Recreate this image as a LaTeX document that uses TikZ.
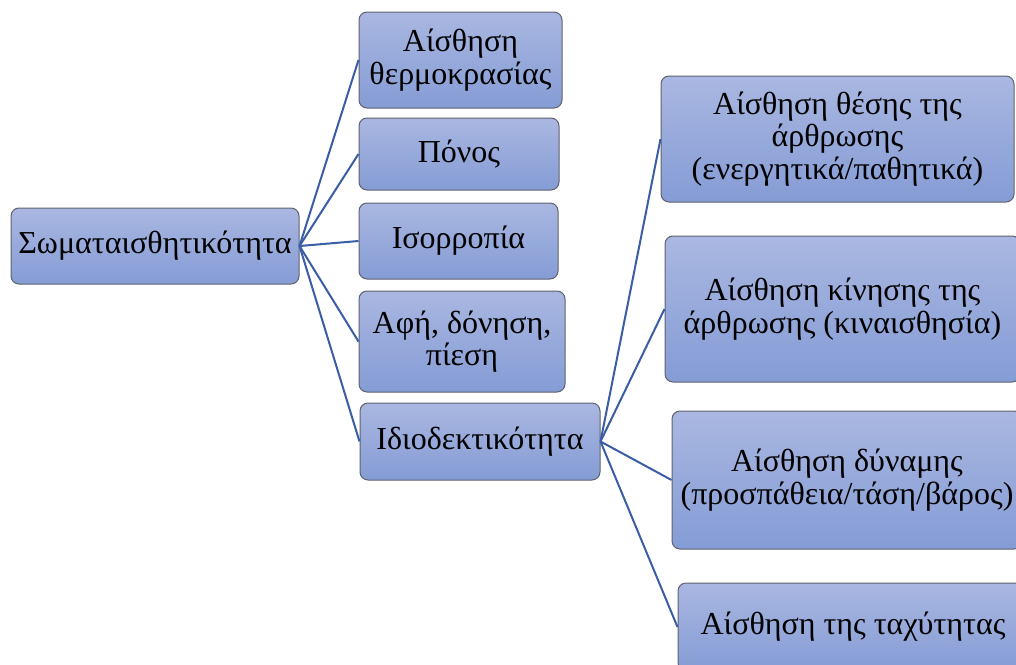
\documentclass[tikz,border=0pt]{standalone}
\usepackage{fontspec}
\setmainfont{Liberation Serif}
\definecolor{boxtop}{RGB}{170,183,225}
\definecolor{boxbot}{RGB}{132,156,213}
\definecolor{boxline}{RGB}{95,98,110}
\definecolor{conn}{RGB}{58,93,166}
\tikzset{
  box/.style={rectangle, rounded corners=8pt, draw=boxline, line width=1pt,
    top color=boxtop, bottom color=boxbot, align=center, inner sep=0pt,
    font=\fontsize{32}{32.5}\selectfont},
  link/.style={draw=conn, line width=2pt}
}
\begin{document}
\begin{tikzpicture}[x=1pt,y=-1pt]
\useasboundingbox (0,0) rectangle (1016,664);
\clip (0,0) rectangle (1016,664);
\node[box, minimum width=288pt, minimum height=76pt] (root) at (155,246) {Σωματαισθητικότητα};
\node[box, minimum width=203pt, minimum height=96pt] (c1) at (460.5,60) {Αίσθηση\\θερμοκρασίας};
\node[box, minimum width=200pt, minimum height=72pt] (c2) at (459,154) {Πόνος};
\node[box, minimum width=199pt, minimum height=76pt] (c3) at (458.5,241) {Ισορροπία};
\node[box, minimum width=206pt, minimum height=101pt] (c4) at (462,341.5) {Αφή, δόνηση,\\πίεση};
\node[box, minimum width=240pt, minimum height=77pt] (c5) at (480,441.5) {Ιδιοδεκτικότητα};
\node[box, minimum width=353pt, minimum height=126pt] (a) at (837.5,139) {Αίσθηση θέσης της\\άρθρωσης\\(ενεργητικά/παθητικά)};
\node[box, minimum width=355pt, minimum height=146pt] (b) at (842.5,309) {Αίσθηση κίνησης της\\άρθρωσης (κιναισθησία)};
\node[box, minimum width=350pt, minimum height=138pt] (c) at (847,480) {Αίσθηση δύναμης\\(προσπάθεια/τάση/βάρος)};
\node[box, minimum width=350pt, minimum height=88pt] (d) at (853,627) {Αίσθηση της ταχύτητας};
\foreach \n in {c1,c2,c3,c4,c5} \draw[link] (root.east) -- (\n.west);
\foreach \n in {a,b,c,d} \draw[link] (c5.east) -- (\n.west);
\end{tikzpicture}
\end{document}
